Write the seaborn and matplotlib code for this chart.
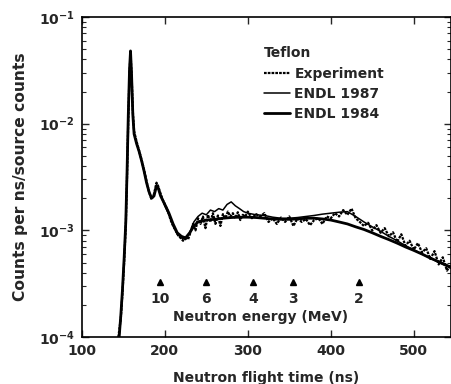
import numpy as np
import pandas as pd
import matplotlib
matplotlib.use("Agg")
import matplotlib.pyplot as plt
import seaborn as sns

# ---------------- data ----------------
exp_t = [144, 147, 149, 151, 153, 154.5, 156, 157.5, 158.7, 160,
         161.5, 163, 166, 169, 172, 175, 178, 181, 184, 187,
         190, 192, 195, 198, 201, 204, 207, 210, 213, 216,
         219, 222, 225, 228, 231, 234, 237, 240, 243, 246,
         249, 252, 255, 258, 261, 264, 267, 270, 273, 276,
         279, 282, 285, 288, 291, 294, 297, 300, 305, 310,
         315, 320, 325, 330, 335, 340, 345, 350, 355, 360,
         365, 370, 375, 380, 385, 390, 395, 400, 405, 410,
         415, 420, 425, 430, 435, 440, 445, 450, 455, 460,
         465, 470, 475, 480, 485, 490, 495, 500, 505, 510,
         515, 520, 525, 530, 535, 540, 545]
exp_y = [1.0e-4, 1.5e-4, 2.6e-4, 5.0e-4, 1.1e-3, 3.2e-3, 1.1e-2, 3.0e-2, 4.6e-2, 2.9e-2,
         1.3e-2, 8.5e-3, 6.8e-3, 5.6e-3, 4.6e-3, 3.7e-3, 2.9e-3, 2.3e-3, 1.95e-3, 2.2e-3,
         2.8e-3, 2.6e-3, 2.2e-3, 1.9e-3, 1.7e-3, 1.5e-3, 1.25e-3, 1.1e-3, 1.0e-3, 9.0e-4,
         8.5e-4, 8.0e-4, 8.8e-4, 8.2e-4, 9.6e-4, 1.15e-3, 1.0e-3, 1.3e-3, 1.15e-3, 1.35e-3,
         1.05e-3, 1.4e-3, 1.2e-3, 1.45e-3, 1.15e-3, 1.38e-3, 1.1e-3, 1.42e-3, 1.3e-3, 1.5e-3,
         1.35e-3, 1.45e-3, 1.3e-3, 1.48e-3, 1.25e-3, 1.4e-3, 1.35e-3, 1.5e-3, 1.3e-3, 1.42e-3,
         1.35e-3, 1.45e-3, 1.2e-3, 1.3e-3, 1.15e-3, 1.32e-3, 1.2e-3, 1.35e-3, 1.1e-3, 1.3e-3,
         1.2e-3, 1.28e-3, 1.12e-3, 1.25e-3, 1.3e-3, 1.15e-3, 1.35e-3, 1.3e-3, 1.45e-3, 1.35e-3,
         1.55e-3, 1.4e-3, 1.6e-3, 1.3e-3, 1.2e-3, 1.1e-3, 1.18e-3, 1.0e-3, 1.12e-3, 9.5e-4,
         1.05e-3, 8.8e-4, 9.6e-4, 7.8e-4, 9.2e-4, 7.2e-4, 8.0e-4, 6.6e-4, 7.6e-4, 6.2e-4,
         6.8e-4, 5.4e-4, 6.4e-4, 4.8e-4, 5.6e-4, 4.2e-4, 4.8e-4]

e87_t = [145, 147, 149, 151, 153, 154.5, 156, 157.5, 158.7, 160,
         161.5, 163, 166, 169, 172, 175, 178, 181, 184, 187,
         190, 192, 195, 200, 205, 210, 215, 220, 225, 230,
         235, 240, 245, 250, 255, 260, 265, 270, 275, 280,
         285, 290, 295, 300, 310, 320, 330, 340, 350, 360,
         370, 380, 390, 400, 410, 420, 430, 440, 450, 460,
         470, 480, 490, 500, 510, 520, 530, 540, 545]
e87_y = [1.0e-4, 1.5e-4, 2.7e-4, 5.2e-4, 1.15e-3, 3.3e-3, 1.15e-2, 3.1e-2, 4.7e-2, 2.9e-2,
         1.25e-2, 8.2e-3, 6.6e-3, 5.5e-3, 4.5e-3, 3.6e-3, 2.85e-3, 2.3e-3, 2.0e-3, 2.15e-3,
         2.7e-3, 2.55e-3, 2.15e-3, 1.7e-3, 1.4e-3, 1.1e-3, 9.2e-4, 8.5e-4, 8.2e-4, 9.5e-4,
         1.2e-3, 1.35e-3, 1.45e-3, 1.4e-3, 1.55e-3, 1.5e-3, 1.6e-3, 1.55e-3, 1.75e-3, 1.85e-3,
         1.7e-3, 1.6e-3, 1.5e-3, 1.45e-3, 1.4e-3, 1.38e-3, 1.33e-3, 1.3e-3, 1.3e-3, 1.32e-3,
         1.35e-3, 1.38e-3, 1.42e-3, 1.45e-3, 1.48e-3, 1.5e-3, 1.35e-3, 1.2e-3, 1.08e-3, 9.8e-4,
         8.8e-4, 8.0e-4, 7.2e-4, 6.6e-4, 6.0e-4, 5.5e-4, 5.0e-4, 4.6e-4, 4.4e-4]

e84_t = [145, 147, 149, 151, 153, 154.5, 156, 157.5, 158.7, 160,
         161.5, 163, 166, 169, 172, 175, 178, 181, 184, 187,
         190, 192, 195, 200, 205, 210, 215, 220, 225, 230,
         235, 240, 250, 260, 270, 280, 290, 300, 310, 320,
         330, 340, 350, 360, 370, 380, 390, 400, 410, 420,
         430, 440, 450, 460, 470, 480, 490, 500, 510, 520,
         530, 540, 545]
e84_y = [1.0e-4, 1.6e-4, 2.8e-4, 5.5e-4, 1.2e-3, 3.5e-3, 1.2e-2, 3.2e-2, 4.8e-2, 2.8e-2,
         1.2e-2, 8.0e-3, 6.5e-3, 5.5e-3, 4.5e-3, 3.6e-3, 2.8e-3, 2.3e-3, 2.0e-3, 2.1e-3,
         2.6e-3, 2.5e-3, 2.1e-3, 1.75e-3, 1.45e-3, 1.15e-3, 9.5e-4, 8.8e-4, 8.5e-4, 9.5e-4,
         1.1e-3, 1.2e-3, 1.25e-3, 1.27e-3, 1.3e-3, 1.32e-3, 1.33e-3, 1.33e-3, 1.32e-3, 1.3e-3,
         1.28e-3, 1.27e-3, 1.27e-3, 1.28e-3, 1.3e-3, 1.3e-3, 1.28e-3, 1.25e-3, 1.2e-3, 1.15e-3,
         1.08e-3, 1.02e-3, 9.5e-4, 8.8e-4, 8.2e-4, 7.6e-4, 7.0e-4, 6.5e-4, 6.0e-4, 5.5e-4,
         5.1e-4, 4.7e-4, 4.5e-4]

energy_labels = ["10", "6", "4", "3", "2"]
energy_times = [194, 250, 306, 354, 434]

series_names = ["Experiment", "ENDL 1987", "ENDL 1984"]

# ---------------- style ----------------
sns.set_style("ticks")
plt.rcParams["font.family"] = ["DejaVu Sans"]
plt.rcParams["font.weight"] = "bold"
plt.rcParams["mathtext.fontset"] = "dejavusans"
plt.rcParams["mathtext.default"] = "bf"

FS = 10

fig = plt.figure(figsize=(4.52, 3.84), dpi=100)
ax = fig.add_axes([0.181, 0.122, 0.817, 0.834])

df_exp = pd.DataFrame({"t": exp_t, "y": exp_y})
df_87 = pd.DataFrame({"t": e87_t, "y": e87_y})
df_84 = pd.DataFrame({"t": e84_t, "y": e84_y})

sns.lineplot(data=df_exp, x="t", y="y", ax=ax, color="black", lw=1.6,
             linestyle=(0, (1.2, 0.5)), sort=False, estimator=None,
             label=series_names[0])
sns.lineplot(data=df_87, x="t", y="y", ax=ax, color="black", lw=1.1,
             sort=False, estimator=None, label=series_names[1])
sns.lineplot(data=df_84, x="t", y="y", ax=ax, color="black", lw=2.0,
             sort=False, estimator=None, label=series_names[2])

ax.set_yscale("log")
ax.set_xlim(100, 545)
ax.set_ylim(1e-4, 1e-1)
ax.set_xticks([100, 200, 300, 400, 500])
ax.set_xticklabels(["100", "200", "300", "400", "500"], fontsize=FS, fontweight="bold")
ax.set_yticks([1e-4, 1e-3, 1e-2, 1e-1])
ax.set_yticklabels([r"$10^{-4}$", r"$10^{-3}$", r"$10^{-2}$", r"$10^{-1}$"], fontsize=FS)
ax.tick_params(axis="both", which="major", direction="in", length=5, width=1,
               top=True, right=True, pad=5)
ax.tick_params(axis="both", which="minor", direction="in", length=3, width=0.8,
               top=False, right=True)
ax.set_xlabel("Neutron flight time (ns)", fontsize=FS, fontweight="bold", labelpad=9)
ax.set_ylabel("Counts per ns/source counts", fontsize=11.2, fontweight="bold", labelpad=8)
for s in ax.spines.values():
    s.set_visible(True)
    s.set_linewidth(1.2)
    s.set_color("black")

# energy markers
for lab, t in zip(energy_labels, energy_times):
    ax.plot([t], [3.3e-4], marker="^", color="black", markersize=4)
    ax.text(t, 2.3e-4, lab, ha="center", va="center", fontsize=FS, fontweight="bold")
ax.text(316, 1.55e-4, "Neutron energy (MeV)", ha="center", va="center",
        fontsize=FS, fontweight="bold")

leg = ax.legend(loc="upper left", bbox_to_anchor=(0.478, 0.925), frameon=False,
                title="Teflon", alignment="left", handlelength=1.9,
                handletextpad=0.3, labelspacing=0.45, borderaxespad=0,
                prop={"weight": "bold", "size": FS},
                title_fontproperties={"weight": "bold", "size": FS})

fig.savefig("out.png", dpi=100)
